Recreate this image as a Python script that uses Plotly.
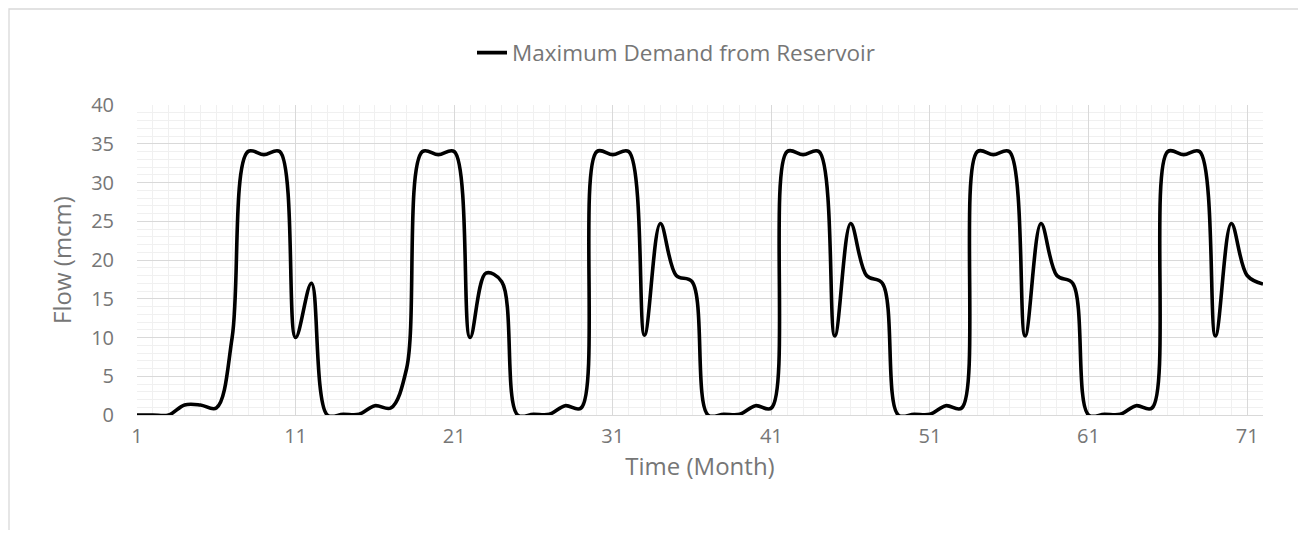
import plotly.graph_objects as go

months = list(range(1, 73))
max_demand = [
    0, 0, 0, 1.3, 1.3, 0.9, 10, 34, 33.6, 34, 10, 17,
    0, 0.1, 0.1, 1.2, 0.9, 6, 34, 33.6, 34, 10, 18.3, 17.2,
    0, 0.1, 0.1, 1.2, 0.9, 34, 33.6, 34, 10.3, 24.7, 18, 17.2,
    0, 0.1, 0.1, 1.2, 0.9, 34, 33.6, 34, 10.2, 24.7, 18, 17,
    0, 0.1, 0.1, 1.2, 0.9, 34, 33.6, 34, 10.2, 24.7, 18, 17,
    0, 0.1, 0.1, 1.2, 0.9, 34, 33.6, 34, 10.2, 24.7, 18, 16.9,
]
series_name = "Maximum Demand from Reservoir"
x_title = "Time (Month)"
y_title = "Flow (mcm)"

TXT = "#767676"
FONT = "Open Sans"

# page has an 8px body margin; figure coordinates = page coordinates - 8
OFF = 8
W, H = 1306 - 2 * OFF, 538 - 2 * OFF
PL, PR, PT, PB = 137, 1263, 105, 415  # plot area in page pixels
L = PL - OFF
R = W - (PR - OFF)
T = PT - OFF
B = H - (PB - OFF)
pw, ph = W - L - R, H - T - B

def px2x(px):
    return (px - OFF - L) / pw

def px2y(py):
    return (H - B - (py - OFF)) / ph

fig = go.Figure()
fig.add_trace(go.Scatter(
    x=months, y=max_demand, mode="lines", name=series_name,
    line=dict(color="#000000", width=3.6, shape="spline", smoothing=1.0),
))

fig.update_layout(
    width=W, height=H,
    margin=dict(l=L, r=R, t=T, b=B),
    paper_bgcolor="white", plot_bgcolor="white",
    font=dict(family=FONT, color=TXT, size=20),
    showlegend=True,
    legend=dict(
        orientation="h", x=px2x(676), xanchor="center",
        y=px2y(53), yanchor="middle",
        font=dict(size=22.5, color=TXT, family=FONT),
        bgcolor="rgba(0,0,0,0)",
    ),
    xaxis=dict(
        range=[1, 72], tick0=1, dtick=10, tickmode="linear",
        showgrid=True, gridcolor="#d9d9d9", gridwidth=1,
        minor=dict(dtick=1, tick0=1, showgrid=True, gridcolor="#f0f0f0", gridwidth=1),
        showline=True, linecolor="#d9d9d9", linewidth=1.3,
        ticks="", zeroline=False,
        ticklabelstandoff=3,
        tickfont=dict(size=20, color=TXT),
        title=dict(text=x_title, font=dict(size=24, color=TXT), standoff=4),
    ),
    yaxis=dict(
        range=[0, 40], tick0=0, dtick=5, tickmode="linear",
        showgrid=True, gridcolor="#d9d9d9", gridwidth=1,
        minor=dict(dtick=1, tick0=0, showgrid=True, gridcolor="#f0f0f0", gridwidth=1),
        showline=False, ticks="", zeroline=False,
        ticklabelstandoff=22,
        tickfont=dict(size=20, color=TXT),
        title=dict(text=y_title, font=dict(size=24, color=TXT), standoff=12),
    ),
    shapes=[dict(
        type="rect", xref="paper", yref="paper",
        x0=px2x(9), x1=px2x(1330), y0=px2y(580), y1=px2y(9),
        line=dict(color="#d9d9d9", width=1.3), fillcolor="rgba(0,0,0,0)", layer="below",
    )],
)

fig.write_html("out.html")
